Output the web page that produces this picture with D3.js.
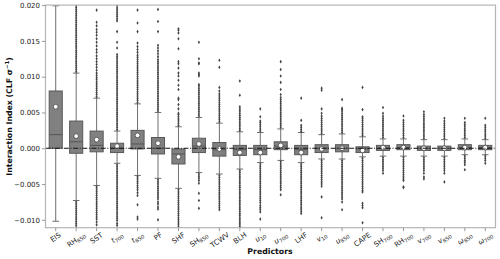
<!DOCTYPE html>
<html>
<head>
<meta charset="utf-8">
<script src="https://cdn.jsdelivr.net/npm/d3@7"></script>
<style>
  body { margin: 0; background: #fff; }
  text { font-family: "DejaVu Sans", sans-serif; }
</style>
</head>
<body>
<div id="chart"></div>
<script>
var svgWidth = 500;
var svgHeight = 259;

// plot frame (pixels)
var frame = { left: 45.5, right: 495.5, top: 5.1, bottom: 227.7 };

// All values below are in units of 1e-4 (CLF sigma^-1)
var predictors = ["EIS", "RH850", "SST", "t700", "t850", "PF", "SHF", "SH850", "TCWV", "BLH",
  "u10", "u700", "LHF", "v10", "u850", "CAPE", "SH700", "RH700", "v700", "v850", "ω850", "ω700"];

var q3 = [80, 38, 24, 7, 25, 15, -1, 14, 8, 4, 4, 9, 4, 5, 5, 2, 4, 5, 3, 3, 5, 4];
var q1 = [0, -7, -5, -6, -1, -8, -22, -6, -11, -10, -9, -2, -9, -6, -5, -6, -3, -2, -3, -3, -2, -2];
var medians = [19, 9, 4, 0, 6, 0, -8, 3, -2, -2, -2, 3, -2, 0, 0, -1, 0, 1, 0, 0, 1, 1];
var means = [58, 17, 12, 3, 18, 7, -12, 6, -1, -6, -6, 4, -6, -1, 0, -3, 1, 1, 0, 0, 1, 1];
var whiskerLow = [-102, -73, -52, -21, -38, -42, -56, -34, -36, -29, -20, -17, -20, -15, -15, -12, -11, -11, -11, -11, -9, -9];
var whiskerHigh = [199, 105, 70, 24, 62, 50, 30, 43, 35, 23, 22, 27, 22, 19, 20, 16, 13, 13, 12, 12, 13, 12];

var outliersHigh = [
  [],
  [107,110,113,116,119,122,125,128,131,134,137,140,143,146,149,152,155,158,161,164,167,170,173,176,179,182,185,188,191,194,197,200],
  [72,75,78,81,84,87,90,93,96,99,102,105,109,113,117,121,125,129,134,138,143,148,153,158,162,166,171,176,193],
  [26,29,32,35,38,41,44,47,50,53,56,59,62,65,68,71,74,77,80,83,86,89,92,95,98,101,104,107,110,113,116,119,122,125,128,131,140,148,163,178,181,184,187,190,193,196,199],
  [64,67,70,73,76,79,82,85,88,91,94,97,100,103,106,109,112,115,118,121,124,127,130,134,138,142,147,163,175,193],
  [52,55,58,61,64,67,70,73,76,79,82,85,88,91,94,97,100,103,106,109,112,115,118,121,124,128,132,136,140,144,163,177,194],
  [32,35,38,41,44,47,49,55,61,68,70,82,88,95,101,105,112,118,121,139,153,161,165,167],
  [45,48,51,54,57,60,63,66,69,72,75,78,81,84,87,89,101,103,105,118,119,125,148],
  [37,40,43,46,49,52,55,58,61,64,67,70,73,76,80,85,113,123],
  [25,28,31,34,37,40,43,46,49,52,55,58,74,94],
  [24,27,30,33,36,38,44,55],
  [29,32,35,38,41,44,47,50,53,56,59,62,65,68,71,75,82,92,101,110,121],
  [23,26,29,32,39,70],
  [21,24,27,30,33,36,39,42,45,49,55,81,84],
  [22,25,28,31,34,37,40,43,46,49,52,54,56,68],
  [18,21,24,27,30,33,36,39,42,44,54,85],
  [15,18,21,24,27,30,33,36,39,42,45,49,57],
  [15,18,21,24,27,30,33,36,39,45],
  [14,17,20,23,26,29,32,35,38,41,44,47,51],
  [14,17,20,23,26,29,32,35,38,42],
  [15,18,21,24,27,30,33,36,42],
  [14,17,20,23,26,29,32,42]
];

var outliersLow = [
  [],
  [-75,-78,-81,-84,-87,-90,-93,-96,-99,-102,-105,-108,-111],
  [-54,-57,-60,-63,-66,-69,-72,-75,-78,-81,-84,-87,-90,-93,-96,-99,-103,-107],
  [-23,-26,-29,-32,-35,-38,-41,-44,-47,-50,-53,-56,-59,-62,-65,-68,-71,-74,-77,-80,-83,-86,-89,-92,-95,-98,-101,-105,-108],
  [-40,-43,-46,-49,-52,-55,-58,-62,-66,-79,-96,-99],
  [-44,-47,-50,-53,-56,-59,-62,-65,-68,-71,-75,-78,-82,-85,-100],
  [-58,-61,-64,-67,-70,-73,-76,-79,-82,-85,-88,-91,-94,-97,-100,-103,-106,-109],
  [-36,-39,-42,-45,-49,-63,-73,-84],
  [-38,-41,-44,-47,-50,-53,-56,-59,-62,-65,-68,-71,-74,-77,-80,-83,-86],
  [-31,-34,-37,-40,-43,-46,-49,-52,-55,-58,-61,-64,-67,-70,-73,-76,-79,-82,-85,-88,-91,-94,-97,-100,-103,-106,-109,-111],
  [-22,-25,-28,-31,-34,-37,-40,-43,-46,-49,-52,-55,-58,-61,-64,-67,-70,-73,-76,-80,-83,-86,-89,-99],
  [-19,-22,-25,-28,-31,-34,-37,-40,-43,-46,-49,-52,-55,-58,-65],
  [-22,-25,-28,-31,-34,-37,-40,-43,-46,-49,-52,-55,-58,-61,-64,-67,-70,-73,-76,-79,-82,-85,-88,-91],
  [-17,-20,-23,-26,-29,-32,-35,-38,-41,-44,-47,-50,-53,-68,-97],
  [-17,-20,-23,-26,-29,-32,-35,-38,-41,-44,-47,-50,-53,-56,-59,-62,-65,-68,-71,-75,-86],
  [-14,-17,-20,-23,-26,-29,-32,-35,-38,-41,-44,-47,-50,-53,-56,-59,-61,-77,-80,-83,-104],
  [-13,-16,-19,-22,-25,-28,-31,-35],
  [-13,-16,-19,-22,-25,-28,-31,-34,-37,-40,-43,-45,-54,-55],
  [-13,-16,-19,-22,-25,-28,-31,-35,-40,-43],
  [-13,-16,-19,-22,-25,-28,-31,-35,-47],
  [-11,-14,-17,-20,-23,-30],
  [-11,-14,-17,-21]
];

var yTicks = [-100, -50, 0, 50, 100, 150, 200];

var svg = d3.select("#chart")
  .append("svg")
  .attr("width", svgWidth)
  .attr("height", svgHeight);

var x = d3.scaleBand()
  .domain(predictors)
  .range([frame.left, frame.right])
  .padding(0);

var y = d3.scaleLinear()
  .domain([-111, 200])
  .range([frame.bottom, frame.top]);

var boxW = x.bandwidth() * 0.64;
var capW = boxW * 0.5;

svg.append("clipPath").attr("id", "plotClip")
  .append("rect")
  .attr("x", frame.left).attr("y", frame.top)
  .attr("width", frame.right - frame.left)
  .attr("height", frame.bottom - frame.top);

var plot = svg.append("g").attr("clip-path", "url(#plotClip)");

var boxes = predictors.map(function(p, i) {
  return {
    name: p, q1: q1[i], q3: q3[i], median: medians[i], mean: means[i],
    lo: whiskerLow[i], hi: whiskerHigh[i],
    fliers: outliersHigh[i].concat(outliersLow[i])
  };
});

var cx = d => x(d.name) + x.bandwidth() / 2;

var groups = plot.selectAll("g.box")
  .data(boxes)
  .enter()
  .append("g")
  .attr("class", "box");

// whiskers
groups.append("line")
  .attr("x1", cx).attr("x2", cx)
  .attr("y1", d => y(d.q3)).attr("y2", d => y(d.hi))
  .attr("stroke", "#6e6e6e").attr("stroke-width", 1);
groups.append("line")
  .attr("x1", cx).attr("x2", cx)
  .attr("y1", d => y(d.q1)).attr("y2", d => y(d.lo))
  .attr("stroke", "#6e6e6e").attr("stroke-width", 1);

// caps
groups.append("line")
  .attr("x1", d => cx(d) - capW / 2).attr("x2", d => cx(d) + capW / 2)
  .attr("y1", d => y(d.hi)).attr("y2", d => y(d.hi))
  .attr("stroke", "#6e6e6e").attr("stroke-width", 1);
groups.append("line")
  .attr("x1", d => cx(d) - capW / 2).attr("x2", d => cx(d) + capW / 2)
  .attr("y1", d => y(d.lo)).attr("y2", d => y(d.lo))
  .attr("stroke", "#6e6e6e").attr("stroke-width", 1);

// fliers (thin diamonds)
groups.selectAll("path.flier")
  .data(d => d.fliers.map(v => ({ x: cx(d), v: v })))
  .enter()
  .append("path")
  .attr("class", "flier")
  .attr("d", "M0,-1.8L1.1,0L0,1.8L-1.1,0Z")
  .attr("transform", f => `translate(${f.x},${y(f.v)})`)
  .attr("fill", "#444");

// boxes
groups.append("rect")
  .attr("x", d => cx(d) - boxW / 2)
  .attr("width", boxW)
  .attr("y", d => y(d.q3))
  .attr("height", d => Math.max(1, y(d.q1) - y(d.q3)))
  .attr("fill", "#808080")
  .attr("stroke", "#585858")
  .attr("stroke-width", 1);

// medians
groups.append("line")
  .attr("x1", d => cx(d) - boxW / 2).attr("x2", d => cx(d) + boxW / 2)
  .attr("y1", d => y(d.median)).attr("y2", d => y(d.median))
  .attr("stroke", "#555").attr("stroke-width", 1);

// zero line
plot.append("line")
  .attr("x1", frame.left).attr("x2", frame.right)
  .attr("y1", y(0)).attr("y2", y(0))
  .attr("stroke", "#111")
  .attr("stroke-width", 1)
  .attr("stroke-dasharray", "5,1.6,1,1.6");

// means
groups.append("circle")
  .attr("cx", cx)
  .attr("cy", d => y(d.mean))
  .attr("r", 2.4)
  .attr("fill", "#fff")
  .attr("stroke", "#555")
  .attr("stroke-width", 0.9);

// frame
svg.append("rect")
  .attr("x", frame.left).attr("y", frame.top)
  .attr("width", frame.right - frame.left)
  .attr("height", frame.bottom - frame.top)
  .attr("fill", "none")
  .attr("stroke", "#b5b5b5")
  .attr("stroke-width", 1.2);

// y axis
var leftAxis = d3.axisLeft(y)
  .tickValues(yTicks)
  .tickSize(3.5)
  .tickPadding(2)
  .tickFormat(d => (d / 1e4).toFixed(3).replace("-", "\u2212"));

var yAxis = svg.append("g")
  .attr("transform", `translate(${frame.left}, 0)`)
  .call(leftAxis);
yAxis.select(".domain").remove();
yAxis.selectAll(".tick line").attr("stroke", "#999");
yAxis.selectAll(".tick text")
  .attr("font-size", 7)
  .attr("fill", "#222")
  .attr("font-family", "DejaVu Sans, sans-serif");

// x axis ticks only
var bottomAxis = d3.axisBottom(x).tickSize(3.5).tickFormat("");
var xAxis = svg.append("g")
  .attr("transform", `translate(0, ${frame.bottom})`)
  .call(bottomAxis);
xAxis.select(".domain").remove();
xAxis.selectAll(".tick line").attr("stroke", "#999");

// rotated x tick labels with subscripts (bbox centred under tick, like matplotlib)
var ang = 35 * Math.PI / 180;
predictors.forEach(function(p) {
  var m = p.match(/^(\D+)(\d*)$/);
  var outer = svg.append("g");
  var rot = outer.append("g").attr("transform", "rotate(-35)");
  var t = rot.append("text")
    .attr("font-size", 7.2)
    .attr("fill", "#222");
  var base = t.append("tspan").text(m[1]);
  if (/^[a-zω]$/.test(m[1])) base.attr("font-style", "italic");
  if (m[2]) t.append("tspan").attr("font-size", 5.2).attr("dy", 1.6).text(m[2]);
  var b = t.node().getBBox();
  t.attr("x", -(b.x + b.width / 2)).attr("y", -(b.y + b.height / 2));
  var H = b.width * Math.sin(ang) + b.height * Math.cos(ang);
  var tx = x(p) + x.bandwidth() / 2;
  var ty = frame.bottom + 2.5 + H / 2;
  outer.attr("transform", "translate(" + tx + "," + ty + ")");
});

// axis titles
var yLabel = svg.append("text")
  .attr("transform", `translate(11.5, ${(frame.top + frame.bottom) / 2}) rotate(-90)`)
  .attr("text-anchor", "middle")
  .attr("font-size", 7.8)
  .attr("font-weight", "bold")
  .attr("fill", "#111");
yLabel.append("tspan").text("Interaction Index (CLF \u03c3");
yLabel.append("tspan").attr("font-size", 5.5).attr("dy", -3).text("\u22121");
yLabel.append("tspan").attr("dy", 3).text(")");

svg.append("text")
  .attr("x", 270)
  .attr("y", 254)
  .attr("text-anchor", "middle")
  .attr("font-size", 7.8)
  .attr("font-weight", "bold")
  .attr("fill", "#111")
  .text("Predictors");
</script>
</body>
</html>
